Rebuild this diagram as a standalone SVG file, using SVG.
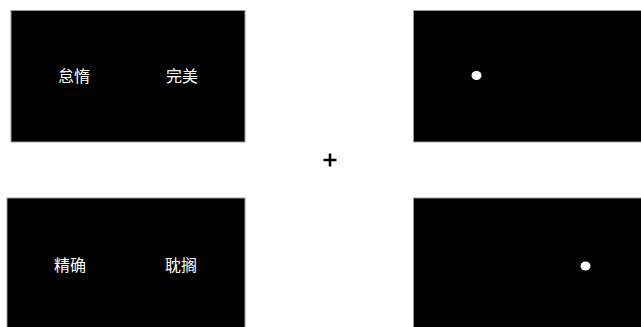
<svg xmlns="http://www.w3.org/2000/svg" width="641" height="327" viewBox="0 0 641 327">
<style>
.panel{fill:#000;stroke:#999;stroke-width:1}
.word{fill:#fff;font-family:"Noto Sans CJK SC","Noto Sans",sans-serif;font-size:16px;text-anchor:middle}
.dot{fill:#fff}
.fix{stroke:#000;stroke-width:2.5}
</style>
<rect width="641" height="327" fill="#fff"/>
<g id="panel-top-left">
<rect class="panel" x="11" y="10.5" width="234" height="131.5"/>
<text class="word" x="74" y="82">怠惰</text>
<text class="word" x="182" y="82">完美</text>
</g>
<g id="panel-top-right">
<rect class="panel" x="413.5" y="10.5" width="230" height="131.5"/>
<ellipse class="dot" cx="476.5" cy="75.5" rx="5" ry="4.5"/>
</g>
<g id="fixation">
<line class="fix" x1="323.5" y1="160" x2="336.5" y2="160"/>
<line class="fix" x1="330" y1="153.5" x2="330" y2="166.5"/>
</g>
<g id="panel-bottom-left">
<rect class="panel" x="7" y="198" width="238" height="132"/>
<text class="word" x="70" y="271">精确</text>
<text class="word" x="181" y="271">耽搁</text>
</g>
<g id="panel-bottom-right">
<rect class="panel" x="413.5" y="198" width="230" height="132"/>
<ellipse class="dot" cx="585.5" cy="266" rx="5" ry="4.5"/>
</g>
</svg>
